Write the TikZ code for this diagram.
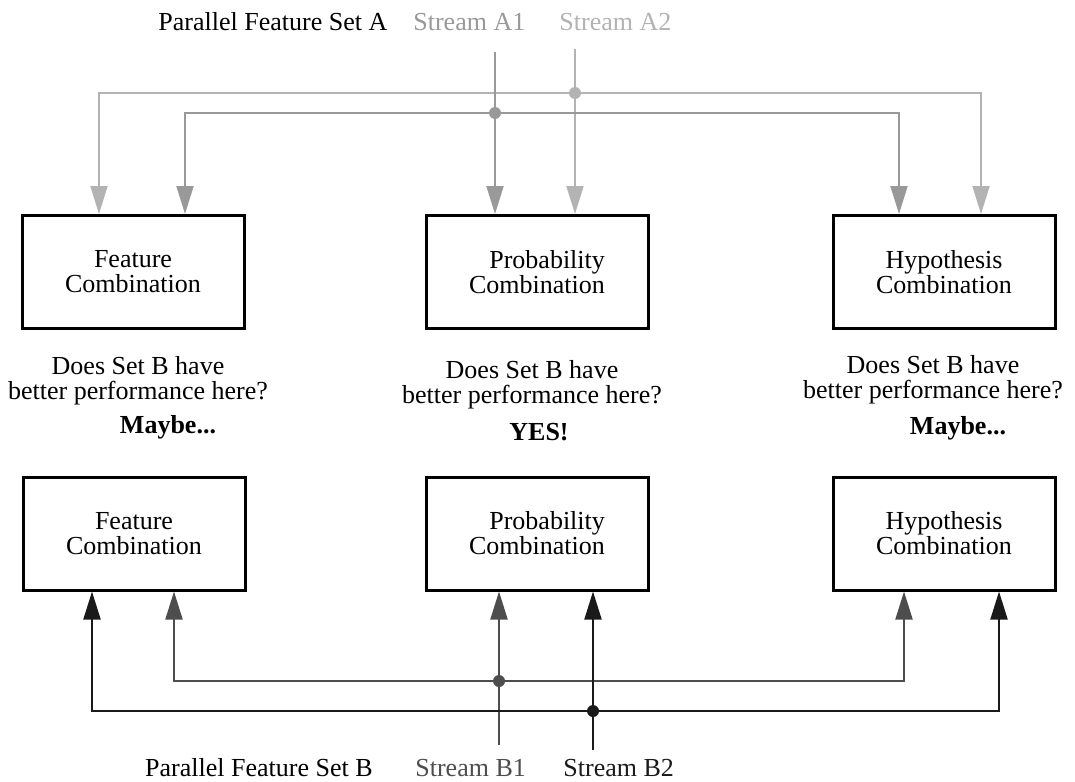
\documentclass[tikz,border=0pt]{standalone}
\usepackage{fontspec}
\setmainfont{Liberation Serif}
\usetikzlibrary{arrows.meta,positioning}

\definecolor{setAone}{HTML}{999999}
\definecolor{setAtwo}{HTML}{B3B3B3}
\definecolor{setBone}{HTML}{4D4D4D}
\definecolor{setBtwo}{HTML}{1A1A1A}

\tikzset{
  combo/.style={rectangle, draw, line width=1.5pt, minimum width=111pt, minimum height=56.5pt, inner sep=0pt, align=center},
  stream/.style={line width=1pt, -{Triangle[length=14pt,width=8.5pt]}},
  question/.style={align=center, inner sep=0pt, anchor=north},
  streamname/.style={inner sep=0pt, anchor=base west},
}

\begin{document}
\begin{tikzpicture}[x=0.5pt, y=-0.5pt, font=\fontsize{13}{12.6}\selectfont]
    \useasboundingbox (0,0) rectangle (1075,781);

    % set A side
    \node[combo] (featA) at (133,272) {Feature\\Combination};
    \node[combo, align=right] (probA) at (537,272) {Probability\\Combination};
    \node[combo] (hypA) at (944,272) {Hypothesis\\Combination};

    % set B side
    \node[combo] (featB) at (134,533.5) {Feature\\Combination};
    \node[combo, align=right] (probB) at (537,533.5) {Probability\\Combination};
    \node[combo] (hypB) at (944,533.5) {Hypothesis\\Combination};

    % questions and answers
    \node[question] (askF) at (138,356) {Does Set B have\\better performance here?};
    \node[question] (askP) at (532,360) {Does Set B have\\better performance here?};
    \node[question] (askH) at (933,355) {Does Set B have\\better performance here?};
    \node[inner sep=0pt, anchor=base] (ansF) at (168,433) {\textbf{Maybe...}};
    \node[inner sep=0pt, anchor=base] (ansP) at (539,440) {\textbf{YES!}};
    \node[inner sep=0pt, anchor=base] (ansH) at (958,434) {\textbf{Maybe...}};

    % stream names
    \node[streamname] (setA) at (158,31) {Parallel Feature Set A};
    \node[streamname, text=setAone] (nameA1) at (413,31) {Stream A1};
    \node[streamname, text=setAtwo] (nameA2) at (559,31) {Stream A2};
    \node[streamname, anchor=base east] (setB) at (373,776) {Parallel Feature Set B};
    \node[streamname, text=setBone] (nameB1) at (415,776) {Stream B1};
    \node[streamname, text=setBtwo] (nameB2) at (563,776) {Stream B2};

    % junctions
    \coordinate (a1) at (495,52);
    \coordinate (a1j) at (495,113);
    \coordinate (a2) at (575,49);
    \coordinate (a2j) at (575,93);
    \coordinate (b1) at (499,745);
    \coordinate (b1j) at (499,681);
    \coordinate (b2) at (593,750);
    \coordinate (b2j) at (593,711);

    % stream A2
    \draw[stream, setAtwo] (a2) -- (a2 |- probA.north);
    \draw[stream, setAtwo] (a2j) -| ([xshift=-17pt]featA.north);
    \draw[stream, setAtwo] (a2j) -| ([xshift=18.5pt]hypA.north);
    \fill[setAtwo] (a2j) circle (3pt);
    % stream A1
    \draw[stream, setAone] (a1) -- (a1 |- probA.north);
    \draw[stream, setAone] (a1j) -| ([xshift=26pt]featA.north);
    \draw[stream, setAone] (a1j) -| ([xshift=-22.5pt]hypA.north);
    \fill[setAone] (a1j) circle (3pt);

    % stream B1
    \draw[stream, setBone] (b1) -- (b1 |- probB.south);
    \draw[stream, setBone] (b1j) -| ([xshift=20pt]featB.south);
    \draw[stream, setBone] (b1j) -| ([xshift=-20pt]hypB.south);
    \fill[setBone] (b1j) circle (3pt);
    % stream B2
    \draw[stream, setBtwo] (b2) -- (b2 |- probB.south);
    \draw[stream, setBtwo] (b2j) -| ([xshift=-21pt]featB.south);
    \draw[stream, setBtwo] (b2j) -| ([xshift=27.5pt]hypB.south);
    \fill[setBtwo] (b2j) circle (3pt);
\end{tikzpicture}
\end{document}
